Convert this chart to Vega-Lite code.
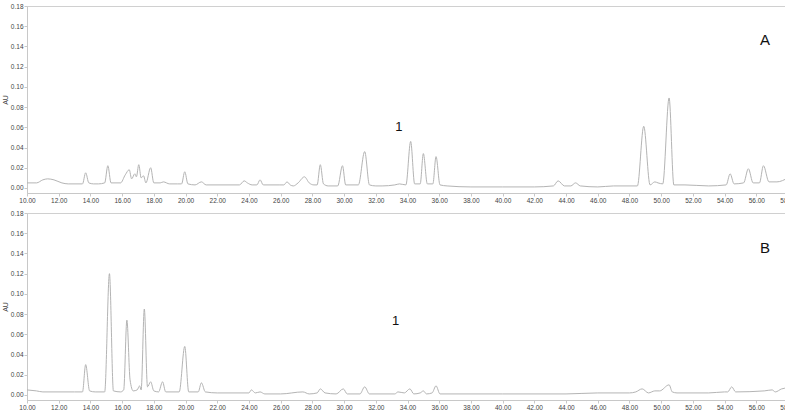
{
  "$schema": "https://vega.github.io/schema/vega-lite/v6.json",
  "padding": {"left": 0, "top": 2, "right": 0, "bottom": 0},
  "background": "white",
  "spacing": 5,
  "config": {
    "view": {"stroke": "#d0d0d0", "strokeWidth": 1},
    "axis": {"labelFont": "Liberation Sans Narrow, Liberation Sans", "labelFontSize": 6.5, "labelColor": "#444", "labelBound": false, "labelFlush": false, "titleFont": "Liberation Sans", "titleFontSize": 7, "titleFontWeight": "normal", "titleColor": "#444", "domainColor": "#c8c8c8", "tickColor": "#c8c8c8", "grid": false, "tickSize": 3, "labelPadding": 1}
  },
  "datasets": {
    "A": [
      {"t":10.0,"v":0.005},{"t":10.6,"v":0.005},{"t":11.0,"v":0.008},{"t":11.3,"v":0.009},{"t":11.7,"v":0.008},{"t":12.2,"v":0.005},{"t":12.6,"v":0.004},{"t":13.5,"v":0.004},{"t":13.7,"v":0.015},{"t":13.9,"v":0.005},{"t":14.2,"v":0.004},{"t":14.5,"v":0.004},{"t":14.9,"v":0.005},{"t":15.1,"v":0.022},{"t":15.3,"v":0.005},{"t":15.9,"v":0.005},{"t":16.2,"v":0.013},{"t":16.45,"v":0.018},{"t":16.6,"v":0.009},{"t":16.8,"v":0.014},{"t":16.9,"v":0.011},{"t":17.05,"v":0.023},{"t":17.2,"v":0.010},{"t":17.35,"v":0.012},{"t":17.5,"v":0.005},{"t":17.8,"v":0.020},{"t":18.0,"v":0.005},{"t":18.4,"v":0.005},{"t":18.6,"v":0.006},{"t":19.0,"v":0.004},{"t":19.5,"v":0.004},{"t":19.75,"v":0.004},{"t":19.95,"v":0.016},{"t":20.15,"v":0.004},{"t":20.6,"v":0.003},{"t":21.0,"v":0.006},{"t":21.3,"v":0.003},{"t":23.4,"v":0.003},{"t":23.7,"v":0.007},{"t":23.9,"v":0.005},{"t":24.2,"v":0.003},{"t":24.5,"v":0.003},{"t":24.7,"v":0.008},{"t":24.9,"v":0.003},{"t":25.9,"v":0.003},{"t":26.2,"v":0.003},{"t":26.4,"v":0.006},{"t":26.6,"v":0.003},{"t":26.8,"v":0.002},{"t":27.1,"v":0.005},{"t":27.5,"v":0.011},{"t":27.8,"v":0.005},{"t":28.1,"v":0.003},{"t":28.3,"v":0.003},{"t":28.5,"v":0.023},{"t":28.7,"v":0.004},{"t":29.0,"v":0.002},{"t":29.6,"v":0.002},{"t":29.9,"v":0.022},{"t":30.1,"v":0.003},{"t":30.9,"v":0.003},{"t":31.3,"v":0.036},{"t":31.6,"v":0.003},{"t":32.0,"v":0.002},{"t":32.4,"v":0.002},{"t":33.2,"v":0.003},{"t":33.5,"v":0.004},{"t":33.9,"v":0.003},{"t":34.2,"v":0.046},{"t":34.45,"v":0.004},{"t":34.8,"v":0.004},{"t":35.0,"v":0.034},{"t":35.25,"v":0.004},{"t":35.6,"v":0.004},{"t":35.8,"v":0.031},{"t":36.05,"v":0.003},{"t":36.5,"v":0.002},{"t":38.0,"v":0.001},{"t":40.0,"v":0.001},{"t":42.0,"v":0.001},{"t":43.2,"v":0.002},{"t":43.5,"v":0.007},{"t":43.9,"v":0.002},{"t":44.3,"v":0.002},{"t":44.6,"v":0.005},{"t":44.9,"v":0.002},{"t":46.0,"v":0.001},{"t":47.0,"v":0.002},{"t":48.5,"v":0.002},{"t":48.9,"v":0.061},{"t":49.3,"v":0.003},{"t":49.6,"v":0.006},{"t":49.8,"v":0.005},{"t":50.1,"v":0.004},{"t":50.5,"v":0.089},{"t":50.8,"v":0.003},{"t":51.5,"v":0.003},{"t":53.0,"v":0.002},{"t":54.1,"v":0.003},{"t":54.35,"v":0.014},{"t":54.6,"v":0.004},{"t":55.2,"v":0.005},{"t":55.5,"v":0.019},{"t":55.8,"v":0.005},{"t":56.2,"v":0.005},{"t":56.45,"v":0.022},{"t":56.8,"v":0.006},{"t":57.3,"v":0.006},{"t":58.0,"v":0.010}
    ],
    "B": [
      {"t":10.0,"v":0.005},{"t":10.6,"v":0.004},{"t":11.0,"v":0.003},{"t":13.0,"v":0.003},{"t":13.5,"v":0.003},{"t":13.7,"v":0.030},{"t":13.95,"v":0.004},{"t":14.3,"v":0.003},{"t":14.9,"v":0.003},{"t":15.2,"v":0.120},{"t":15.45,"v":0.004},{"t":15.9,"v":0.003},{"t":16.1,"v":0.005},{"t":16.3,"v":0.074},{"t":16.5,"v":0.015},{"t":16.7,"v":0.004},{"t":16.95,"v":0.005},{"t":17.1,"v":0.009},{"t":17.2,"v":0.005},{"t":17.4,"v":0.085},{"t":17.6,"v":0.008},{"t":17.8,"v":0.013},{"t":18.0,"v":0.004},{"t":18.3,"v":0.003},{"t":18.55,"v":0.013},{"t":18.75,"v":0.003},{"t":19.6,"v":0.003},{"t":19.95,"v":0.048},{"t":20.2,"v":0.003},{"t":20.8,"v":0.003},{"t":21.0,"v":0.012},{"t":21.25,"v":0.003},{"t":22.0,"v":0.002},{"t":24.0,"v":0.002},{"t":24.15,"v":0.005},{"t":24.4,"v":0.002},{"t":24.7,"v":0.003},{"t":25.0,"v":0.001},{"t":26.0,"v":0.001},{"t":27.4,"v":0.003},{"t":27.8,"v":0.001},{"t":28.3,"v":0.002},{"t":28.5,"v":0.006},{"t":28.8,"v":0.002},{"t":29.5,"v":0.001},{"t":29.95,"v":0.006},{"t":30.2,"v":0.001},{"t":31.0,"v":0.001},{"t":31.3,"v":0.008},{"t":31.6,"v":0.001},{"t":33.2,"v":0.001},{"t":33.4,"v":0.003},{"t":33.8,"v":0.002},{"t":34.15,"v":0.006},{"t":34.4,"v":0.001},{"t":34.8,"v":0.002},{"t":35.0,"v":0.004},{"t":35.2,"v":0.001},{"t":35.55,"v":0.002},{"t":35.8,"v":0.009},{"t":36.05,"v":0.001},{"t":40.0,"v":0.001},{"t":44.0,"v":0.001},{"t":46.0,"v":0.002},{"t":48.0,"v":0.002},{"t":48.4,"v":0.003},{"t":48.8,"v":0.006},{"t":49.2,"v":0.002},{"t":49.6,"v":0.004},{"t":49.9,"v":0.004},{"t":50.5,"v":0.010},{"t":50.7,"v":0.003},{"t":51.0,"v":0.002},{"t":53.0,"v":0.002},{"t":54.0,"v":0.003},{"t":54.2,"v":0.003},{"t":54.45,"v":0.008},{"t":54.7,"v":0.003},{"t":56.5,"v":0.004},{"t":57.0,"v":0.005},{"t":57.2,"v":0.003},{"t":57.6,"v":0.006},{"t":58.0,"v":0.007}
    ],
    "labA": [{"t":33.45,"v":0.060,"txt":"1","f":"sans"},{"t":56.55,"v":0.146,"txt":"A","f":"serif"}],
    "labB": [{"t":33.25,"v":0.073,"txt":"1","f":"sans"},{"t":56.55,"v":0.145,"txt":"B","f":"serif"}]
  },
  "vconcat": [
    {
      "width": 761, "height": 187,
      "encoding": {
        "x": {"field": "t", "type": "quantitative", "scale": {"domain": [10, 58], "nice": false}, "axis": {"values": [10,12,14,16,18,20,22,24,26,28,30,32,34,36,38,40,42,44,46,48,50,52,54,56,58], "format": ".2f", "title": null, "labelOverlap": false}},
        "y": {"field": "v", "type": "quantitative", "scale": {"domain": [-0.005, 0.18], "nice": false, "zero": false}, "axis": {"values": [0,0.02,0.04,0.06,0.08,0.1,0.12,0.14,0.16,0.18], "format": ".2f", "title": "AU", "titlePadding": 2, "labelOverlap": false}}
      },
      "layer": [
        {
          "data": {"name": "A"},
          "mark": {"type": "line", "color": "#b4b4b4", "strokeWidth": 1, "interpolate": "monotone"}
        },
        {
          "data": {"name": "labA"},
          "mark": {"type": "text", "color": "#111"},
          "encoding": {
            "text": {"field": "txt"},
            "font": {"condition": {"test": "datum.f === 'serif'", "value": "Liberation Serif"}, "value": "Liberation Sans"},
            "size": {"condition": {"test": "datum.f === 'serif'", "value": 15}, "value": 13}
          }
        }
      ]
    },
    {
      "width": 761, "height": 187,
      "encoding": {
        "x": {"field": "t", "type": "quantitative", "scale": {"domain": [10, 58], "nice": false}, "axis": {"values": [10,12,14,16,18,20,22,24,26,28,30,32,34,36,38,40,42,44,46,48,50,52,54,56,58], "format": ".2f", "title": null, "labelOverlap": false}},
        "y": {"field": "v", "type": "quantitative", "scale": {"domain": [-0.005, 0.18], "nice": false, "zero": false}, "axis": {"values": [0,0.02,0.04,0.06,0.08,0.1,0.12,0.14,0.16,0.18], "format": ".2f", "title": "AU", "titlePadding": 2, "labelOverlap": false}}
      },
      "layer": [
        {
          "data": {"name": "B"},
          "mark": {"type": "line", "color": "#b4b4b4", "strokeWidth": 1, "interpolate": "monotone"}
        },
        {
          "data": {"name": "labB"},
          "mark": {"type": "text", "color": "#111"},
          "encoding": {
            "text": {"field": "txt"},
            "font": {"condition": {"test": "datum.f === 'serif'", "value": "Liberation Serif"}, "value": "Liberation Sans"},
            "size": {"condition": {"test": "datum.f === 'serif'", "value": 15}, "value": 13}
          }
        }
      ]
    }
  ]
}
